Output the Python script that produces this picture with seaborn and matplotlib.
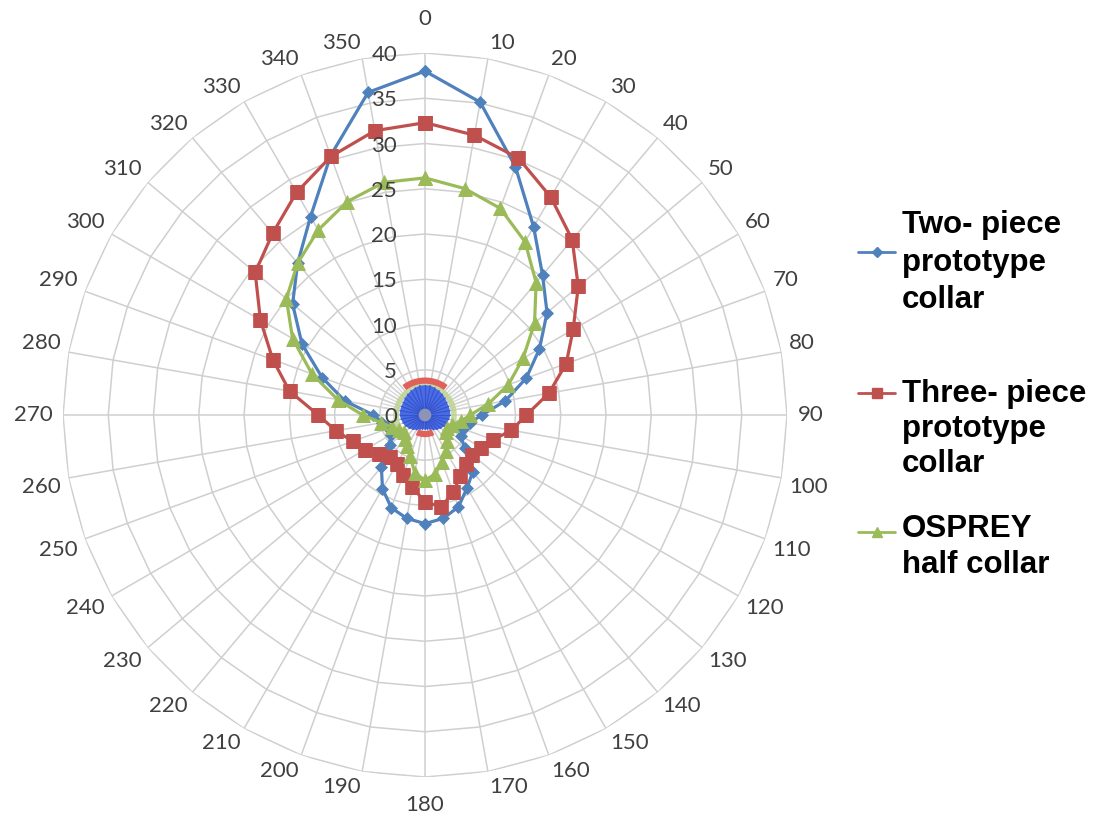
import numpy as np
import matplotlib
matplotlib.use("Agg")
import matplotlib.pyplot as plt
import seaborn as sns
from matplotlib.lines import Line2D
from matplotlib.transforms import offset_copy

# Compass directions (degrees) and measured values for each collar
directions = list(range(0, 360, 10))
two_piece = [38.0, 35.1, 29.2, 24.0, 20.2, 17.6, 14.6, 11.9, 9.0, 6.3,
             5.0, 4.5, 4.6, 5.7, 8.2, 9.3, 10.8, 11.6, 12.0, 11.6,
             10.9, 9.4, 7.5, 5.1, 4.4, 4.3, 4.8, 5.7, 9.0, 12.1,
             15.7, 19.1, 21.9, 25.3, 30.5, 36.2]
three_piece = [32.3, 31.4, 30.2, 27.8, 25.3, 22.1, 18.9, 16.6, 13.9, 11.2,
               9.7, 8.0, 7.2, 6.8, 7.1, 7.8, 9.1, 10.3, 9.6, 8.1,
               7.0, 6.3, 6.1, 6.7, 7.7, 8.5, 10.0, 11.8, 15.2, 17.9,
               21.0, 24.5, 26.2, 28.4, 30.4, 31.9]
osprey = [26.2, 25.4, 24.3, 22.1, 19.1, 15.8, 12.5, 9.8, 7.1, 5.0,
          4.0, 3.2, 2.8, 3.0, 3.8, 4.6, 5.5, 6.6, 7.2, 6.5,
          4.8, 4.0, 3.4, 3.0, 3.3, 3.9, 4.9, 6.9, 9.8, 13.3,
          16.9, 20.0, 21.9, 23.6, 25.1, 26.1]
series_names = ["Two- piece\nprototype\ncollar",
                "Three- piece\nprototype\ncollar",
                "OSPREY\nhalf collar"]
radial_ticks = [0, 5, 10, 15, 20, 25, 30, 35, 40]

# Small cluster of overlapping marks around the origin
core_blue_r = [3.3, 3.3, 3.2, 3.1, 3.0, 2.9, 2.8, 2.8, 2.8, 2.8,
               2.7, 2.6, 2.5, 2.3, 2.1, 1.9, 1.7, 1.6, 1.6, 1.6,
               1.7, 1.9, 2.1, 2.3, 2.5, 2.6, 2.7, 2.8, 2.8, 2.8,
               2.8, 2.9, 3.0, 3.1, 3.2, 3.3]
core_red_cap = (-37, 37, 3.8)
core_red_base = (155, 205, 2.1)
core_green_ring = (-115, 115, 3.2)
core_fan_right = [45, 50, 55, 60, 65, 70, 75, 80]
core_fan_left = [280, 285, 290, 295, 300, 305, 310, 315]

BLUE = "#4F81BD"
RED = "#C0504D"
GREEN = "#9BBB59"
GRID = "#CFCFCF"
TEXT = "#404040"

sns.set_theme(style="white")
plt.rcParams["font.family"] = ["Lato", "DejaVu Sans"]

fig = plt.figure(figsize=(10.94, 8.18), dpi=100)
ax = fig.add_axes([0.0576, 0.0501, 0.6618, 0.8851], projection="polar")
ax.set_theta_zero_location("N")
ax.set_theta_direction(-1)
ax.set_ylim(0, 40)
ax.set_xticks([])
ax.set_yticks([])
ax.grid(False)
ax.spines["polar"].set_visible(False)
ax.set_facecolor("white")

theta = np.deg2rad(directions)
theta_closed = np.append(theta, 2 * np.pi)

# Radar grid: straight-edged rings and spokes
for r in radial_ticks[1:]:
    ax.plot(theta_closed, [r] * len(theta_closed), color=GRID, lw=1.1, zorder=1)
for t in theta:
    ax.plot([t, t], [0, 40], color=GRID, lw=1.1, zorder=1)

# Cluster near the origin
fan_color = "#D5D5D5"
for d in core_fan_right + core_fan_left:
    ax.plot([np.deg2rad(d)] * 2, [2.9, 4.9], color=fan_color, lw=0.9, zorder=2)
g0, g1, gr = core_green_ring
arc = np.deg2rad(np.linspace(g0, g1, 80))
ax.plot(arc, [gr] * len(arc), color="#B9D28C", lw=4, alpha=0.8, zorder=2)
core_closed = np.append(core_blue_r, core_blue_r[0])
ax.fill(theta_closed, core_closed, color="#4A6BE6", zorder=3, lw=0)
for t, r in zip(theta, core_blue_r):
    ax.plot([t, t], [0.5, r], color="#3554C9", lw=0.8, zorder=3)
ax.fill(np.linspace(0, 2 * np.pi, 40), [0.7] * 40, color="#8E94B8", zorder=3, lw=0)
for a0, a1, rr in (core_red_cap, core_red_base):
    arc = np.deg2rad(np.linspace(a0, a1, 60))
    ax.plot(arc, [rr] * len(arc), color="#E0605A", lw=4.5, zorder=3,
            solid_capstyle="butt")

# Data series
styles = [
    (two_piece, BLUE, "D", 6.5),
    (three_piece, RED, "s", 10),
    (osprey, GREEN, "^", 9.5),
]
for i, (vals, color, marker, ms) in enumerate(styles):
    vals_closed = np.append(vals, vals[0])
    sns.lineplot(x=theta_closed, y=vals_closed, sort=False, estimator=None,
                 ax=ax, color=color, lw=2.3, marker=marker, markersize=ms,
                 markeredgecolor=color, markeredgewidth=0.5, legend=False,
                 zorder=4 + i)

# Direction labels: the label box corner nearest the ring sits just outside it
extra_gap = {0: 18.0, 180: 12.0, 90: 3.0, 270: 3.0}
for d in directions:
    s = str(d)
    a = np.deg2rad(d)
    sa, ca = np.sin(a), np.cos(a)
    w, h = 12.7 * len(s), 16.0
    sx = 0 if abs(sa) < 1e-6 else np.sign(sa)
    sy = 0 if abs(ca) < 1e-6 else np.sign(ca)
    gap = 8.0 + extra_gap.get(d, 0.0)
    dx = gap * sa + sx * w / 2
    dy = gap * ca + sy * h / 2
    tr = offset_copy(ax.transData, fig=fig, x=dx, y=dy, units="dots")
    ax.text(a, 40, s, transform=tr, ha="center", va="center",
            fontsize=16, color=TEXT)

# Value labels along the 0 direction
lab_tr = offset_copy(ax.transData, fig=fig, x=-28, y=-2, units="dots")
for v in radial_ticks:
    ax.text(0, v, str(v), transform=lab_tr, ha="right", va="center",
            fontsize=16, color=TEXT, zorder=10)

# Legend
W, H = 1094.0, 818.0
legend_rows = [
    (BLUE, "D", 6.5, 252, [233, 271, 308]),
    (RED, "s", 10, 393, [402, 437, 472]),
    (GREEN, "^", 9.5, 532, [537, 573]),
]
for (color, marker, ms, hy, baselines), name in zip(legend_rows, series_names):
    y = 1 - hy / H
    fig.add_artist(Line2D([858 / W, 895 / W], [y, y], transform=fig.transFigure,
                          color=color, lw=2.0))
    fig.add_artist(Line2D([876.5 / W], [y], transform=fig.transFigure,
                          color=color, marker=marker, markersize=ms * 0.75,
                          markeredgecolor=color, lw=0))
    for line, by in zip(name.split("\n"), baselines):
        fig.text(902 / W, 1 - by / H, line, ha="left", va="baseline",
                 fontsize=22.5, fontweight="bold", color="black",
                 family=["Liberation Sans", "DejaVu Sans"])

fig.savefig("out.png", dpi=100, facecolor="white")
